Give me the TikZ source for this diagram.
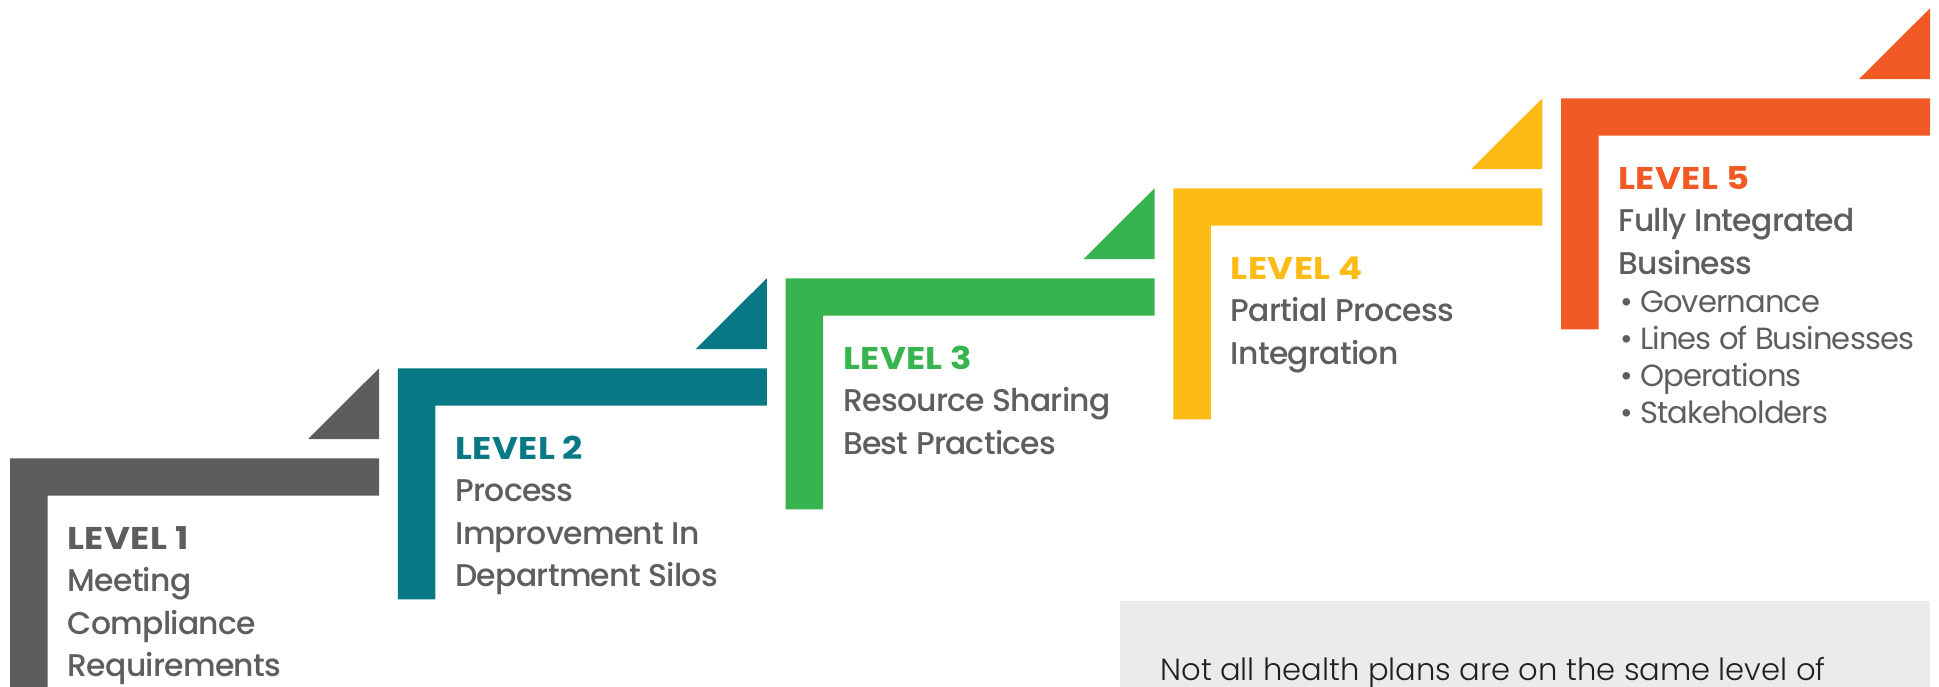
\documentclass[tikz,border=0pt]{standalone}
\usepackage{fontspec}
\usepackage{graphicx}
\setmainfont{Poppins}[LetterSpace=-3]
\newfontfamily\medfont{Poppins Medium}[LetterSpace=-2.3]
\newfontfamily\lightfont{Poppins Light}
\newfontfamily\labfont{Poppins Bold}[LetterSpace=1]
\newcommand{\lab}[1]{\scalebox{1.13}[1]{#1}}
\definecolor{cgray}{HTML}{5D5D5F}
\definecolor{cteal}{HTML}{087885}
\definecolor{cgreen}{HTML}{37B34F}
\definecolor{cyellow}{HTML}{FCBC15}
\definecolor{corange}{HTML}{F15A24}
\definecolor{ctext}{HTML}{5D5E60}
\definecolor{cbox}{HTML}{EBEBED}
\definecolor{cdark}{HTML}{231F20}
\tikzset{
  lbl/.style={anchor=base west, inner sep=0pt, font=\labfont\fontsize{15.7}{18}\selectfont},
  sub/.style={anchor=base west, inner sep=0pt, text=ctext, font=\medfont\fontsize{15.7}{18}\selectfont},
  bul/.style={anchor=base west, inner sep=0pt, text=ctext, font=\fontsize{15.3}{18}\selectfont},
  note/.style={anchor=base west, inner sep=0pt, text=cdark, font=\lightfont\fontsize{15.3}{18}\selectfont}
}
\begin{document}
\begin{tikzpicture}[x=0.5pt,y=-0.5pt]
\useasboundingbox (0,0) rectangle (1939,686);
\clip (0,0) rectangle (1939,686);
\foreach \i/\c in {0/cgray,1/cteal,2/cgreen,3/cyellow,4/corange}{
  \fill[\c] ({10+387.75*\i},{458.3-90*\i}) -- ({379+387.75*\i},{458.3-90*\i})
    -- ({379+387.75*\i},{495.7-90*\i}) -- ({47.7+387.75*\i},{495.7-90*\i})
    -- ({47.7+387.75*\i},{689.3-90*\i}) -- ({10+387.75*\i},{689.3-90*\i}) -- cycle;
  \fill[\c] ({308+387.75*\i},{439-90*\i}) -- ({379+387.75*\i},{439-90*\i})
    -- ({379+387.75*\i},{368.3-90*\i}) -- cycle;
}
% note box
\fill[cbox] (1120,601) rectangle (1930,700);
\node[note] (note) at (1160,680.7) {Not all health plans are on the same level of};
% level 1
\node[lbl,text=cgray] (l1) at (67.3,549) {\lab{LEVEL 1}};
\node[sub] (l1a) at (67.3,591.5) {Meeting};
\node[sub] (l1b) at (67.3,634) {Compliance};
\node[sub] (l1c) at (67.3,676.5) {Requirements};
% level 2
\node[lbl,text=cteal] (l2) at (455,459) {\lab{LEVEL 2}};
\node[sub] (l2a) at (455,501.5) {Process};
\node[sub] (l2b) at (455,544) {Improvement In};
\node[sub] (l2c) at (455,586.5) {Department Silos};
% level 3
\node[lbl,text=cgreen] (l3) at (842.8,369) {\lab{LEVEL 3}};
\node[sub] (l3a) at (842.8,411.5) {Resource Sharing};
\node[sub] (l3b) at (842.8,454) {Best Practices};
% level 4
\node[lbl,text=cyellow] (l4) at (1230.5,279) {\lab{LEVEL 4}};
\node[sub] (l4a) at (1230.5,321.5) {Partial Process};
\node[sub] (l4b) at (1230.5,364) {Integration};
% level 5
\node[lbl,text=corange] (l5) at (1618.3,189) {\lab{LEVEL 5}};
\node[sub] (l5a) at (1618.3,231.5) {Fully Integrated};
\node[sub] (l5b) at (1618.3,274) {Business};
\node[bul] (b1) at (1620,312) {• Governance};
\node[bul] (b2) at (1620,349) {• Lines of Businesses};
\node[bul] (b3) at (1620,386) {• Operations};
\node[bul] (b4) at (1620,423) {• Stakeholders};
\end{tikzpicture}
\end{document}
